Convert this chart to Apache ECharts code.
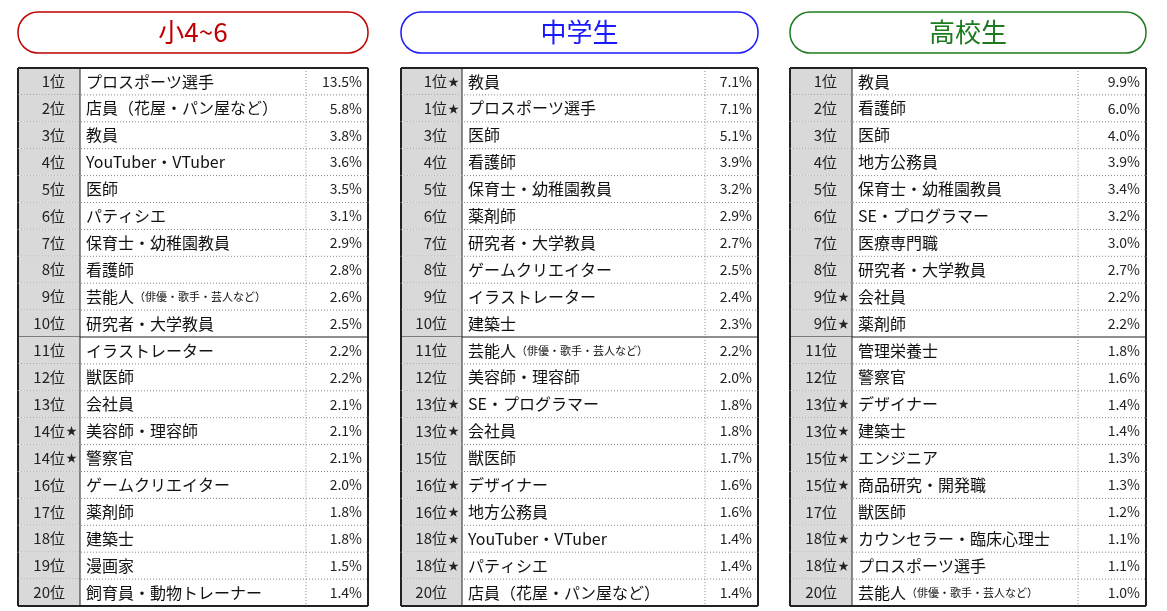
<!DOCTYPE html>
<html><head><meta charset="utf-8">
<script src="https://cdn.jsdelivr.net/npm/echarts@6/dist/echarts.min.js"></script>
<style>html,body{margin:0;background:#fff}#c{width:1167px;height:611px}</style>
</head><body><div id="c"></div>
<script>
// 小4~6
const ranksA = ['1位','2位','3位','4位','5位','6位','7位','8位','9位','10位','11位','12位','13位','14位★','14位★','16位','17位','18位','19位','20位'];
const namesA = ['プロスポーツ選手','店員（花屋・パン屋など）','教員','YouTuber・VTuber','医師','パティシエ','保育士・幼稚園教員','看護師','芸能人{s|（俳優・歌手・芸人など）}','研究者・大学教員','イラストレーター','獣医師','会社員','美容師・理容師','警察官','ゲームクリエイター','薬剤師','建築士','漫画家','飼育員・動物トレーナー'];
const valuesA = [13.5,5.8,3.8,3.6,3.5,3.1,2.9,2.8,2.6,2.5,2.2,2.2,2.1,2.1,2.1,2.0,1.8,1.8,1.5,1.4];
// 中学生
const ranksB = ['1位★','1位★','3位','4位','5位','6位','7位','8位','9位','10位','11位','12位','13位★','13位★','15位','16位★','16位★','18位★','18位★','20位'];
const namesB = ['教員','プロスポーツ選手','医師','看護師','保育士・幼稚園教員','薬剤師','研究者・大学教員','ゲームクリエイター','イラストレーター','建築士','芸能人{s|（俳優・歌手・芸人など）}','美容師・理容師','SE・プログラマー','会社員','獣医師','デザイナー','地方公務員','YouTuber・VTuber','パティシエ','店員（花屋・パン屋など）'];
const valuesB = [7.1,7.1,5.1,3.9,3.2,2.9,2.7,2.5,2.4,2.3,2.2,2.0,1.8,1.8,1.7,1.6,1.6,1.4,1.4,1.4];
// 高校生
const ranksC = ['1位','2位','3位','4位','5位','6位','7位','8位','9位★','9位★','11位','12位','13位★','13位★','15位★','15位★','17位','18位★','18位★','20位'];
const namesC = ['教員','看護師','医師','地方公務員','保育士・幼稚園教員','SE・プログラマー','医療専門職','研究者・大学教員','会社員','薬剤師','管理栄養士','警察官','デザイナー','建築士','エンジニア','商品研究・開発職','獣医師','カウンセラー・臨床心理士','プロスポーツ選手','芸能人{s|（俳優・歌手・芸人など）}'];
const valuesC = [9.9,6.0,4.0,3.9,3.4,3.2,3.0,2.7,2.2,2.2,1.8,1.6,1.4,1.4,1.3,1.3,1.2,1.1,1.1,1.0];
const titles = ['小4~6','中学生','高校生'];

const FONT = '"Noto Sans CJK JP", sans-serif';
const panels = [
  { title: titles[0], color: '#c00000', left: 18, width: 350, rankW: 62, valW: 62, ranks: ranksA, names: namesA, values: valuesA },
  { title: titles[1], color: '#1a1aff', left: 401, width: 357, rankW: 61, valW: 53, ranks: ranksB, names: namesB, values: valuesB },
  { title: titles[2], color: '#1e7a1e', left: 790, width: 356, rankW: 62, valW: 68, ranks: ranksC, names: namesC, values: valuesC }
];

const grids = [], xAxes = [], yAxes = [], series = [], graphics = [];
panels.forEach((p, k) => {
  grids.push({ left: p.left, width: p.width, top: 68, height: 538 });
  xAxes.push({ gridIndex: k, type: 'value', min: 0, max: 1, show: false });
  yAxes.push({ gridIndex: k, type: 'category', inverse: true, show: false, data: p.ranks });
  graphics.push({
    type: 'rect', x: p.left, y: 12,
    shape: { width: p.width, height: 41, r: 20 },
    style: { fill: '#fff', stroke: p.color, lineWidth: 1.5 }
  }, {
    type: 'text', x: p.left + p.width / 2, y: 32,
    style: { text: p.title, font: '26px ' + FONT, fill: p.color, align: 'center', verticalAlign: 'middle' }
  });
  series.push({
    type: 'custom', xAxisIndex: k, yAxisIndex: k,
    data: p.ranks.map((r, i) => [0, i, r, p.names[i], p.values[i]]),
    renderItem: (params, api) => {
      const i = api.value(1);
      const c = api.coord([0, i]);
      const bh = api.size([1, 1])[1];
      const x0 = c[0], y0 = c[1] - bh / 2, W = p.width;
      const x1 = x0 + p.rankW, x2 = x0 + W - p.valW;
      const line = (ax, ay, bx, by, dash, lw) => ({
        type: 'line', shape: { x1: ax, y1: ay, x2: bx, y2: by },
        style: { stroke: dash ? '#888' : '#222', lineWidth: lw || 1, lineDash: dash ? [1, 2] : null }
      });
      const els = [
        { type: 'rect', shape: { x: x0, y: y0, width: p.rankW, height: bh }, style: { fill: '#d9d9d9' } },
        { type: 'text', style: { x: x1 - 15, y: y0 + bh / 2, text: p.ranks[i].replace('★', ''), font: '15px ' + FONT, fill: '#222', align: 'right', verticalAlign: 'middle' } },
        { type: 'text', style: { x: x1 + 6, y: y0 + bh / 2, text: p.names[i], font: '16px ' + FONT, fill: '#111', verticalAlign: 'middle',
            rich: { s: { fontSize: 11, fontFamily: FONT, fill: '#111' } } } },
        { type: 'text', style: { x: x0 + W - 6, y: y0 + bh / 2, text: p.values[i].toFixed(1) + '%', font: '14px ' + FONT, fill: '#222', align: 'right', verticalAlign: 'middle' } },
        line(x1, y0, x1, y0 + bh, false),
        line(x2, y0, x2, y0 + bh, true),
        line(x0, y0, x0, y0 + bh, false, 2),
        line(x0 + W, y0, x0 + W, y0 + bh, false, 2)
      ];
      if (p.ranks[i].includes('★')) {
        els.push({ type: 'text', style: { x: x1 - 3, y: y0 + bh / 2, text: '★', font: '11px ' + FONT, fill: '#222', align: 'right', verticalAlign: 'middle' } });
      }
      if (i === 0) els.push(line(x0, y0, x0 + W, y0, false, 2));
      if (i === 19) els.push(line(x0, y0 + bh, x0 + W, y0 + bh, false, 2));
      else if (i === 9) els.push(line(x0, y0 + bh, x0 + W, y0 + bh, false, 1.2));
      else els.push(line(x0, y0 + bh, x0 + W, y0 + bh, true));
      return { type: 'group', children: els };
    }
  });
});

const chart = echarts.init(document.getElementById('c'), null, { renderer: 'canvas' });
chart.setOption({ animation: false, grid: grids, xAxis: xAxes, yAxis: yAxes, series, graphic: graphics });
</script></body></html>
